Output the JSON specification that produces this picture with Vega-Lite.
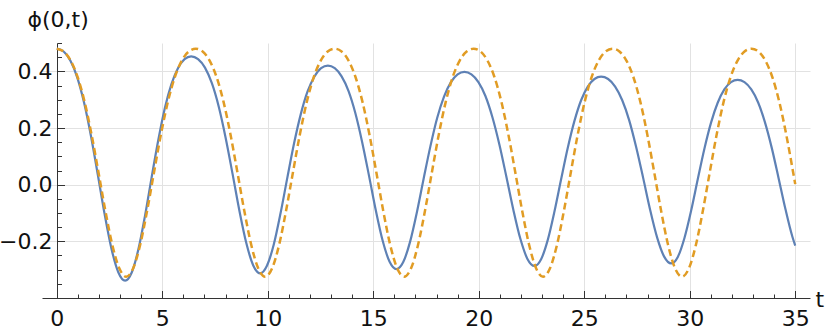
{
 "$schema": "https://vega.github.io/schema/vega-lite/v6.json",
 "width": 768,
 "height": 255,
 "autosize": {"type": "none"},
 "padding": {"left": 42, "top": 43, "right": 20, "bottom": 34},
 "background": "white",
 "config": {"view": {"stroke": null}, "font": "DejaVu Sans"},
 "datasets": {
  "blue": [
   {"t":0,"v":0.480},{"t":0.324,"v":0.470},{"t":0.648,"v":0.437},{"t":0.972,"v":0.378},{"t":1.296,"v":0.289},{"t":1.62,"v":0.172},{"t":1.944,"v":0.036},{"t":2.268,"v":-0.104},{"t":2.592,"v":-0.226},{"t":2.916,"v":-0.309},
   {"t":3.24,"v":-0.339},{"t":3.553,"v":-0.310},{"t":3.866,"v":-0.229},{"t":4.179,"v":-0.111},{"t":4.492,"v":0.024},{"t":4.805,"v":0.155},{"t":5.118,"v":0.269},{"t":5.431,"v":0.354},{"t":5.744,"v":0.411},{"t":6.057,"v":0.443},
   {"t":6.37,"v":0.453},{"t":6.697,"v":0.443},{"t":7.024,"v":0.413},{"t":7.351,"v":0.358},{"t":7.678,"v":0.275},{"t":8.005,"v":0.165},{"t":8.332,"v":0.038},{"t":8.659,"v":-0.093},{"t":8.986,"v":-0.207},{"t":9.313,"v":-0.285},
   {"t":9.64,"v":-0.313},{"t":9.961,"v":-0.286},{"t":10.282,"v":-0.212},{"t":10.603,"v":-0.102},{"t":10.924,"v":0.023},{"t":11.245,"v":0.145},{"t":11.566,"v":0.249},{"t":11.887,"v":0.329},{"t":12.208,"v":0.381},{"t":12.529,"v":0.411},
   {"t":12.85,"v":0.420},{"t":13.175,"v":0.411},{"t":13.5,"v":0.382},{"t":13.825,"v":0.331},{"t":14.15,"v":0.253},{"t":14.475,"v":0.150},{"t":14.8,"v":0.031},{"t":15.125,"v":-0.092},{"t":15.45,"v":-0.199},{"t":15.775,"v":-0.272},
   {"t":16.1,"v":-0.298},{"t":16.422,"v":-0.273},{"t":16.744,"v":-0.202},{"t":17.066,"v":-0.098},{"t":17.388,"v":0.021},{"t":17.71,"v":0.136},{"t":18.032,"v":0.236},{"t":18.354,"v":0.311},{"t":18.676,"v":0.361},{"t":18.998,"v":0.389},
   {"t":19.32,"v":0.398},{"t":19.652,"v":0.389},{"t":19.984,"v":0.362},{"t":20.316,"v":0.313},{"t":20.648,"v":0.238},{"t":20.98,"v":0.141},{"t":21.312,"v":0.027},{"t":21.644,"v":-0.090},{"t":21.976,"v":-0.192},{"t":22.308,"v":-0.262},
   {"t":22.64,"v":-0.287},{"t":22.956,"v":-0.263},{"t":23.272,"v":-0.195},{"t":23.588,"v":-0.095},{"t":23.904,"v":0.019},{"t":24.22,"v":0.130},{"t":24.536,"v":0.225},{"t":24.852,"v":0.298},{"t":25.168,"v":0.346},{"t":25.484,"v":0.373},
   {"t":25.8,"v":0.381},{"t":26.132,"v":0.373},{"t":26.464,"v":0.346},{"t":26.796,"v":0.299},{"t":27.128,"v":0.228},{"t":27.46,"v":0.133},{"t":27.792,"v":0.024},{"t":28.124,"v":-0.089},{"t":28.456,"v":-0.187},{"t":28.788,"v":-0.254},
   {"t":29.12,"v":-0.278},{"t":29.435,"v":-0.255},{"t":29.75,"v":-0.188},{"t":30.065,"v":-0.092},{"t":30.38,"v":0.019},{"t":30.695,"v":0.127},{"t":31.01,"v":0.219},{"t":31.325,"v":0.289},{"t":31.64,"v":0.336},{"t":31.955,"v":0.362},
   {"t":32.27,"v":0.370},{"t":32.594,"v":0.362},{"t":32.918,"v":0.336},{"t":33.242,"v":0.290},{"t":33.566,"v":0.220},{"t":33.89,"v":0.129},{"t":34.214,"v":0.022},{"t":34.538,"v":-0.087},{"t":34.862,"v":-0.183},{"t":35,"v":-0.215}
  ],
  "orange": [
   {"t":0,"v":0.480},{"t":0.329,"v":0.470},{"t":0.659,"v":0.438},{"t":0.988,"v":0.380},{"t":1.317,"v":0.293},{"t":1.646,"v":0.178},{"t":1.976,"v":0.044},{"t":2.305,"v":-0.093},{"t":2.634,"v":-0.213},{"t":2.963,"v":-0.295},
   {"t":3.293,"v":-0.325},{"t":3.622,"v":-0.295},{"t":3.951,"v":-0.213},{"t":4.28,"v":-0.093},{"t":4.61,"v":0.044},{"t":4.939,"v":0.178},{"t":5.268,"v":0.293},{"t":5.597,"v":0.380},{"t":5.927,"v":0.438},{"t":6.256,"v":0.470},
   {"t":6.585,"v":0.480},{"t":6.914,"v":0.470},{"t":7.244,"v":0.438},{"t":7.573,"v":0.380},{"t":7.902,"v":0.293},{"t":8.231,"v":0.178},{"t":8.561,"v":0.044},{"t":8.89,"v":-0.093},{"t":9.219,"v":-0.213},{"t":9.548,"v":-0.295},
   {"t":9.878,"v":-0.325},{"t":10.207,"v":-0.295},{"t":10.536,"v":-0.213},{"t":10.865,"v":-0.093},{"t":11.195,"v":0.044},{"t":11.524,"v":0.178},{"t":11.853,"v":0.293},{"t":12.182,"v":0.380},{"t":12.512,"v":0.438},{"t":12.841,"v":0.470},
   {"t":13.17,"v":0.480},{"t":13.499,"v":0.470},{"t":13.829,"v":0.438},{"t":14.158,"v":0.380},{"t":14.487,"v":0.293},{"t":14.816,"v":0.178},{"t":15.146,"v":0.044},{"t":15.475,"v":-0.093},{"t":15.804,"v":-0.213},{"t":16.133,"v":-0.295},
   {"t":16.463,"v":-0.325},{"t":16.792,"v":-0.295},{"t":17.121,"v":-0.213},{"t":17.45,"v":-0.093},{"t":17.78,"v":0.044},{"t":18.109,"v":0.178},{"t":18.438,"v":0.293},{"t":18.767,"v":0.380},{"t":19.097,"v":0.438},{"t":19.426,"v":0.470},
   {"t":19.755,"v":0.480},{"t":20.084,"v":0.470},{"t":20.414,"v":0.438},{"t":20.743,"v":0.380},{"t":21.072,"v":0.293},{"t":21.401,"v":0.178},{"t":21.731,"v":0.044},{"t":22.06,"v":-0.093},{"t":22.389,"v":-0.213},{"t":22.718,"v":-0.295},
   {"t":23.048,"v":-0.325},{"t":23.377,"v":-0.295},{"t":23.706,"v":-0.213},{"t":24.035,"v":-0.093},{"t":24.365,"v":0.044},{"t":24.694,"v":0.178},{"t":25.023,"v":0.293},{"t":25.352,"v":0.380},{"t":25.682,"v":0.438},{"t":26.011,"v":0.470},
   {"t":26.34,"v":0.480},{"t":26.669,"v":0.470},{"t":26.999,"v":0.438},{"t":27.328,"v":0.380},{"t":27.657,"v":0.293},{"t":27.986,"v":0.178},{"t":28.316,"v":0.044},{"t":28.645,"v":-0.093},{"t":28.974,"v":-0.213},{"t":29.303,"v":-0.295},
   {"t":29.633,"v":-0.325},{"t":29.962,"v":-0.295},{"t":30.291,"v":-0.213},{"t":30.62,"v":-0.093},{"t":30.95,"v":0.044},{"t":31.279,"v":0.178},{"t":31.608,"v":0.293},{"t":31.937,"v":0.380},{"t":32.267,"v":0.438},{"t":32.596,"v":0.470},
   {"t":32.925,"v":0.480},{"t":33.254,"v":0.470},{"t":33.584,"v":0.438},{"t":33.913,"v":0.380},{"t":34.242,"v":0.293},{"t":34.571,"v":0.178},{"t":34.9,"v":0.044},{"t":35,"v":0.002}
  ]
 },
 "layer": [
  {
   "data": {"name": "blue"},
   "mark": {"type": "line", "color": "#5E81B5", "strokeWidth": 2.2, "interpolate": "monotone"},
   "encoding": {
    "x": {"field": "t", "type": "quantitative",
     "scale": {"domain": [-0.7, 35.7], "nice": false, "zero": false},
     "axis": {"orient": "bottom", "values": [0,5,10,15,20,25,30,35], "format": "d", "grid": true, "gridColor": "#e2e2e2", "gridWidth": 1,
      "ticks": false, "domain": true, "domainColor": "#333333", "domainWidth": 1,
      "labels": true, "labelFontSize": 22, "labelPadding": 10, "labelColor": "#111111", "labelFlush": false, "labelOverlap": false,
      "title": "t", "titleX": 773, "titleY": 8, "titleAlign": "left", "titleBaseline": "alphabetic", "titleFontSize": 22, "titleFontWeight": "normal", "titleColor": "#111111"}},
    "y": {"field": "v", "type": "quantitative",
     "scale": {"domain": [-0.4, 0.5], "nice": false, "zero": false},
     "axis": {"orient": "left", "values": [-0.2, 0, 0.2, 0.4], "grid": true, "gridColor": "#e2e2e2", "gridWidth": 1, "domain": false, "ticks": false, "labels": false, "title": null}}
   }
  },
  {
   "data": {"name": "orange"},
   "mark": {"type": "line", "color": "#E19C24", "strokeWidth": 2.5, "strokeDash": [7, 4], "interpolate": "monotone"},
   "encoding": {
    "x": {"field": "t", "type": "quantitative",
     "scale": {"domain": [-0.7, 35.7], "nice": false, "zero": false},
     "axis": {"orient": "bottom", "values": [1,2,3,4,6,7,8,9,11,12,13,14,16,17,18,19,21,22,23,24,26,27,28,29,31,32,33,34], "grid": false, "domain": false, "labels": false,
      "ticks": true, "tickSize": -4, "tickColor": "#333333", "tickWidth": 1, "title": null}},
    "y": {"field": "v", "type": "quantitative",
     "scale": {"domain": [-0.4, 0.5], "nice": false, "zero": false},
     "axis": {"orient": "left", "offset": -15, "values": [-0.2, 0, 0.2, 0.4], "format": ".1f", "grid": false, "domain": true, "domainColor": "#333333", "domainWidth": 1,
      "ticks": false, "labels": true, "labelFontSize": 22, "labelPadding": 5, "labelColor": "#111111", "labelFlush": false, "labelOverlap": false,
      "title": "ϕ(0,t)", "titleAngle": 0, "titleX": -30, "titleY": -17, "titleAlign": "left", "titleBaseline": "alphabetic", "titleFontSize": 22, "titleFontWeight": "normal", "titleColor": "#111111"}}
   }
  },
  {
   "data": {"name": "blue"},
   "mark": {"type": "line", "opacity": 0},
   "encoding": {
    "x": {"field": "t", "type": "quantitative",
     "scale": {"domain": [-0.7, 35.7], "nice": false, "zero": false},
     "axis": {"orient": "bottom", "values": [0,5,10,15,20,25,30,35], "grid": false, "domain": false, "labels": false,
      "ticks": true, "tickSize": -7.5, "tickColor": "#333333", "tickWidth": 1, "title": null}},
    "y": {"field": "v", "type": "quantitative",
     "scale": {"domain": [-0.4, 0.5], "nice": false, "zero": false},
     "axis": {"orient": "left", "offset": -15, "values": [-0.35,-0.3,-0.25,-0.15,-0.1,-0.05,0.05,0.1,0.15,0.25,0.3,0.35,0.45,0.5], "grid": false, "domain": false, "labels": false,
      "ticks": true, "tickSize": -4.5, "tickColor": "#333333", "tickWidth": 1, "title": null}}
   }
  },
  {
   "data": {"name": "blue"},
   "mark": {"type": "line", "opacity": 0},
   "encoding": {
    "x": {"field": "t", "type": "quantitative",
     "scale": {"domain": [-0.7, 35.7], "nice": false, "zero": false},
     "axis": null},
    "y": {"field": "v", "type": "quantitative",
     "scale": {"domain": [-0.4, 0.5], "nice": false, "zero": false},
     "axis": {"orient": "left", "offset": -15, "values": [-0.2, 0, 0.2, 0.4], "grid": false, "domain": false, "labels": false,
      "ticks": true, "tickSize": -7.5, "tickColor": "#333333", "tickWidth": 1, "title": null}}
   }
  }
 ],
 "resolve": {"axis": {"x": "independent", "y": "independent"}}
}
